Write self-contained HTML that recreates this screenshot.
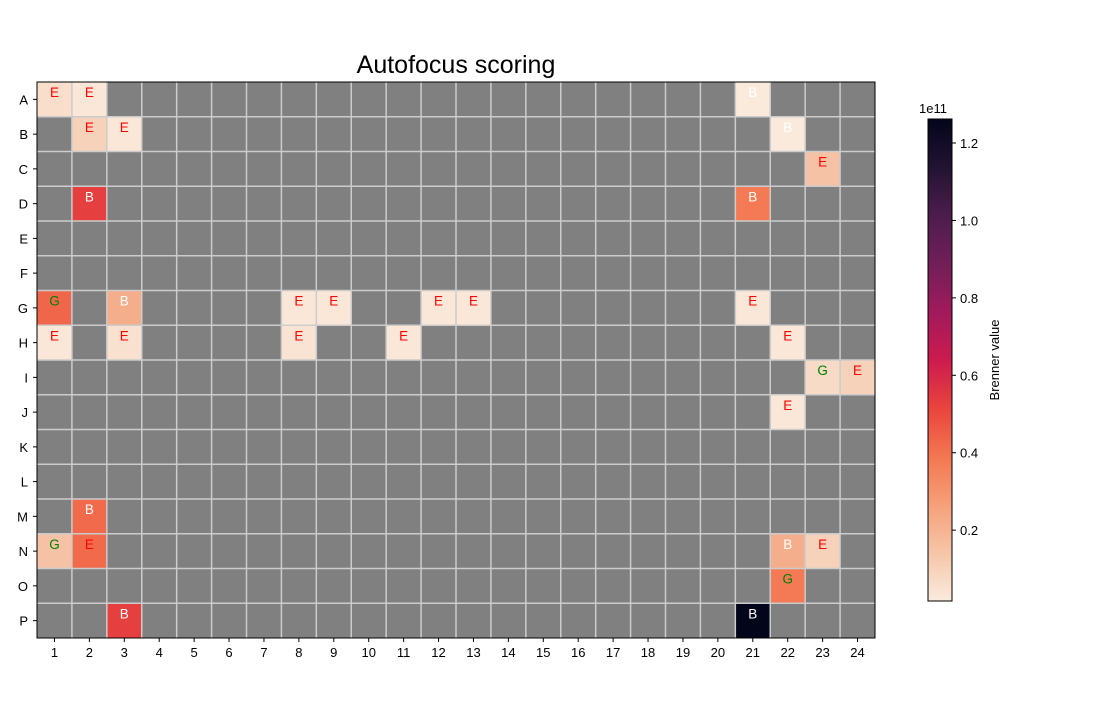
<!DOCTYPE html>
<html><head><meta charset="utf-8"><style>
html,body{margin:0;padding:0;background:#fff;}
svg{display:block;font-family:"Liberation Sans","DejaVu Sans",sans-serif;}
</style></head><body>
<svg id="chart" width="1100" height="720" viewBox="0 0 1100 720">
<defs>
<linearGradient id="cbgrad" x1="0" y1="1" x2="0" y2="0">
<stop offset="0" stop-color="#FAEBDD"/>
<stop offset="0.1" stop-color="#F6C5A8"/>
<stop offset="0.2" stop-color="#F5A07A"/>
<stop offset="0.3" stop-color="#F37651"/>
<stop offset="0.4" stop-color="#E9443D"/>
<stop offset="0.5" stop-color="#CB1B4F"/>
<stop offset="0.6" stop-color="#A11A5B"/>
<stop offset="0.7" stop-color="#701F57"/>
<stop offset="0.8" stop-color="#4C1D4B"/>
<stop offset="0.9" stop-color="#221331"/>
<stop offset="1" stop-color="#03051A"/>
</linearGradient>
</defs>
<text x="456" y="73" font-size="25" text-anchor="middle">Autofocus scoring</text>
<g id="plot"></g>
</svg>
<script>
const rowLabels = ["A","B","C","D","E","F","G","H","I","J","K","L","M","N","O","P"];
const colLabels = ["1","2","3","4","5","6","7","8","9","10","11","12","13","14","15","16","17","18","19","20","21","22","23","24"];
const cellRows = ["A","A","A","B","B","B","C","D","D","G","G","G","G","G","G","G","H","H","H","H","H","I","I","J","M","N","N","N","N","O","P","P"];
const cellCols = [1,2,21,2,3,22,23,2,21,1,3,8,9,12,13,21,1,3,8,11,22,23,24,22,2,1,2,22,23,22,3,21];
const cellValues = [0.06,0.03,0.02,0.1,0.03,0.02,0.15,0.53,0.38,0.43,0.22,0.03,0.03,0.03,0.03,0.03,0.03,0.05,0.04,0.03,0.03,0.07,0.1,0.03,0.42,0.15,0.42,0.22,0.1,0.38,0.53,1.26];
const cellLabels = ["E","E","B","E","E","B","E","B","B","G","B","E","E","E","E","E","E","E","E","E","E","G","E","E","B","G","E","B","E","G","B","B"];
const cbTicks = [0.2,0.4,0.6,0.8,1.0,1.2];
const vmin = 0.017, vmax = 1.262;

const NS="http://www.w3.org/2000/svg";
const g=document.getElementById('plot');
const X0=37,X1=875,Y0=82,Y1=638;
const cw=(X1-X0)/colLabels.length, ch=(Y1-Y0)/rowLabels.length;
const xCol=c=>X0+(c-1)*cw;
const yRow=r=>Y0+rowLabels.indexOf(r)*ch;
const stops=[[0,[250,235,221]],[0.1,[246,197,168]],[0.2,[245,160,122]],[0.3,[243,118,81]],[0.4,[233,68,61]],[0.5,[203,27,79]],[0.6,[161,26,91]],[0.7,[112,31,87]],[0.8,[76,29,75]],[0.9,[34,19,49]],[1,[3,5,26]]];
function cmap(v){let t=Math.max(0,Math.min(1,(v-vmin)/(vmax-vmin)));
for(let i=1;i<stops.length;i++){if(t<=stops[i][0]){const a=stops[i-1],b=stops[i];const f=(t-a[0])/(b[0]-a[0]);
return 'rgb('+a[1].map((c,k)=>Math.round(c+(b[1][k]-c)*f)).join(',')+')';}}return 'rgb(3,5,26)';}
function el(tag,attrs,parent){const e=document.createElementNS(NS,tag);for(const k in attrs)e.setAttribute(k,attrs[k]);(parent||g).appendChild(e);return e;}

const bg=el('rect',{x:X0,y:Y0,width:X1-X0,height:Y1-Y0,fill:'#808080'});


const txtColor={E:'#ff0000',B:'#ffffff',G:'#008000'};
for(let i=0;i<cellValues.length;i++){
  const r=el('rect',{x:xCol(cellCols[i]),y:yRow(cellRows[i]),width:cw,height:ch,fill:cmap(cellValues[i])});
  
  
}
for(let c=1;c<colLabels.length;c++){const l=el('line',{x1:X0+c*cw,x2:X0+c*cw,y1:Y0,y2:Y1,stroke:'#cccccc','stroke-width':1.5});
}
for(let r=1;r<rowLabels.length;r++){const l=el('line',{x1:X0,x2:X1,y1:Y0+r*ch,y2:Y0+r*ch,stroke:'#cccccc','stroke-width':1.5});
}
for(let i=0;i<cellValues.length;i++){
  const t=el('text',{x:xCol(cellCols[i])+cw/2,y:yRow(cellRows[i])+15,'font-size':13.5,'text-anchor':'middle',fill:txtColor[cellLabels[i]]});
  t.textContent=cellLabels[i];
  
  
}
const fr=el('rect',{x:X0,y:Y0,width:X1-X0,height:Y1-Y0,fill:'none',stroke:'#000','stroke-width':1});

colLabels.forEach((c,i)=>{const x=X0+(i+0.5)*cw;
el('line',{x1:x,x2:x,y1:Y1,y2:Y1+4,stroke:'#000'});
const t=el('text',{x:x,y:Y1+19,'font-size':13,'text-anchor':'middle'});t.textContent=c;
});
rowLabels.forEach((r,i)=>{const y=Y0+(i+0.5)*ch;
el('line',{x1:X0-4,x2:X0,y1:y,y2:y,stroke:'#000'});
const t=el('text',{x:X0-9,y:y+5,'font-size':13,'text-anchor':'end'});t.textContent=r;
});
const CX=928,CW=24,CY0=119,CY1=601;
const cbY=v=>CY1-(v-vmin)/(vmax-vmin)*(CY1-CY0);
const cb=el('rect',{x:CX,y:CY0,width:CW,height:CY1-CY0,fill:'url(#cbgrad)',stroke:'#000','stroke-width':1});

cbTicks.forEach(v=>{const y=cbY(v);el('line',{x1:CX+CW,x2:CX+CW+4,y1:y,y2:y,stroke:'#000'});
const t=el('text',{x:CX+CW+8,y:y+5,'font-size':13});t.textContent=v.toFixed(1);
});
const ex=el('text',{x:CX+5,y:CY0-6,'font-size':13,'text-anchor':'middle'});ex.textContent='1e11';

const cl=el('text',{x:0,y:0,'font-size':13,'text-anchor':'middle',transform:'translate(999,360) rotate(-90)'});cl.textContent='Brenner value';

</script>
</body></html>
